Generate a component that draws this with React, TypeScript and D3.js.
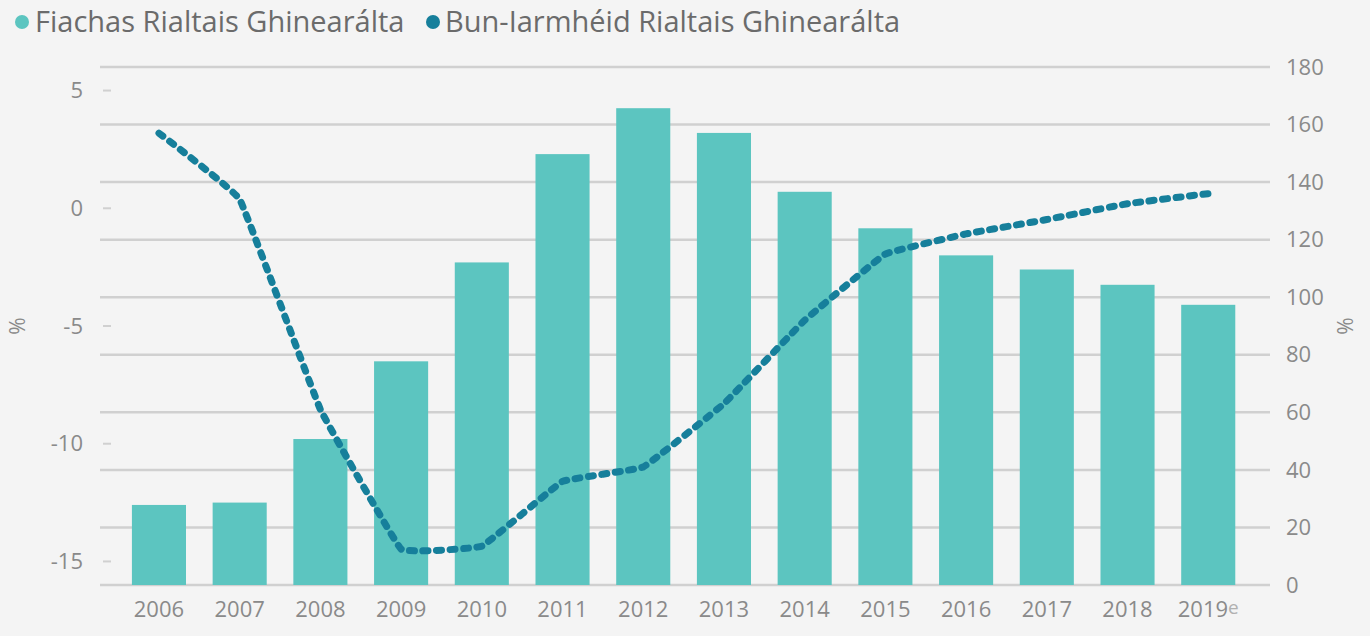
import React from 'react';
import * as d3 from 'd3';

const years = ['2006', '2007', '2008', '2009', '2010', '2011', '2012', '2013', '2014', '2015', '2016', '2017', '2018', '2019'];
const balance = [-12.6, -12.5, -9.8, -6.5, -2.3, 2.3, 4.25, 3.2, 0.7, -0.85, -2.0, -2.6, -3.25, -4.1];
const debt = [157, 134, 61, 12.5, 13.5, 36, 41, 63, 92, 115, 122, 127, 132.5, 136];
const leftTicks = [5, 0, -5, -10, -15];
const rightTicks = [0, 20, 40, 60, 80, 100, 120, 140, 160, 180];
const legendLabels = ['Fiachas Rialtais Ghinearálta', 'Bun-Iarmhéid Rialtais Ghinearálta'];

const W = 1370;
const H = 636;
const barColor = '#5cc5c0';
const lineColor = '#167f9b';
const textColor = '#8a8a8a';
const font = '"Open Sans", "Noto Sans", sans-serif';

const App = () => {
  const top = 67;
  const bottom = 585;
  const gridLeft = 100;
  const gridRight = 1270;

  const x = d3.scaleBand().domain(years).range([118.6, 1248.6]).paddingInner(0.33).paddingOuter(0.165);
  const yL = d3.scaleLinear().domain([-16, 6]).range([bottom, top]);
  const yR = d3.scaleLinear().domain([0, 180]).range([bottom, top]);

  // lightly smoothed, corners stay fairly sharp
  const line = d3
    .line<number>()
    .x((d, i) => x(years[i])! + x.bandwidth() / 2)
    .y((d) => yR(d))
    .curve(d3.curveCardinal.tension(0.8));

  return (
    <svg width={W} height={H} style={{ position: 'absolute', left: 0, top: 0, background: '#f4f4f4' }} fontFamily={font}>
      {/* legend */}
      <circle cx={22} cy={22} r={7} fill={barColor} />
      <text x={35} y={32} fontSize={29} fill="#6b6b6b">{legendLabels[0]}</text>
      <circle cx={433} cy={22} r={7} fill={lineColor} />
      <text x={445} y={32} fontSize={29} fill="#6b6b6b">{legendLabels[1]}</text>

      {/* gridlines from right axis */}
      {rightTicks.map((t) => (
        <line key={t} x1={gridLeft} x2={gridRight} y1={yR(t)} y2={yR(t)} stroke="#d0d0d0" strokeWidth={2.5} />
      ))}

      {/* left axis */}
      {leftTicks.map((t) => (
        <g key={t}>
          <line x1={103} x2={111} y1={yL(t)} y2={yL(t)} stroke="#d0d0d0" strokeWidth={2} />
          <text x={83} y={yL(t)} dy="0.35em" textAnchor="end" fontSize={22} fill={textColor}>{t}</text>
        </g>
      ))}
      <text transform="translate(25,326) rotate(-90)" textAnchor="middle" fontSize={21} fill={textColor}>%</text>

      {/* right axis */}
      {rightTicks.map((t) => (
        <text key={t} x={1286} y={yR(t)} dy="0.35em" fontSize={22} fill={textColor}>{t}</text>
      ))}
      <text transform="translate(1353,326) rotate(-90)" textAnchor="middle" fontSize={21} fill={textColor}>%</text>

      {/* bars */}
      {balance.map((v, i) => (
        <rect key={years[i]} x={x(years[i])} y={yL(v)} width={x.bandwidth()} height={bottom - yL(v)} fill={barColor} />
      ))}

      {/* x labels */}
      {years.map((yr) => (
        <text key={yr} x={x(yr)! + x.bandwidth() / 2} y={617} textAnchor="middle" fontSize={22} fill={textColor}>
          {yr}
          {yr === '2019' && <tspan fill="#b0b0b0" fontSize={19} dy={-3}>e</tspan>}
        </text>
      ))}

      {/* debt line */}
      <path d={line(debt) || ''} fill="none" stroke={lineColor} strokeWidth={7} strokeDasharray="5 8.5" strokeLinecap="round" />
    </svg>
  );
};

export default App;
